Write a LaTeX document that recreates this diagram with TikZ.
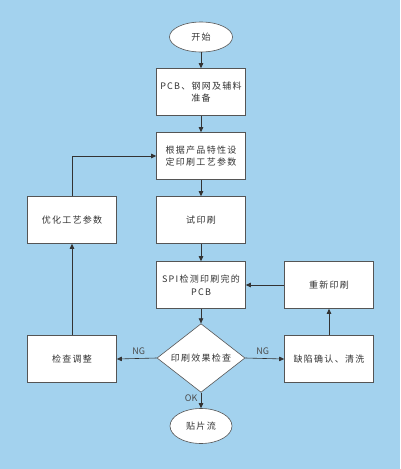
\documentclass[tikz,border=0pt]{standalone}
\usepackage{fontspec}
\setmainfont{Noto Sans CJK SC}
\usetikzlibrary{shapes.geometric,arrows.meta}
\definecolor{bg}{HTML}{A3D2EE}
\definecolor{edge}{HTML}{555555}
\tikzset{
  x=1pt,y=-1pt,
  every node/.style={font=\fontsize{9}{12.5}\selectfont\addfontfeature{LetterSpace=14}, text=black!80},
  box/.style={draw=edge, fill=white, minimum width=89pt, minimum height=47pt, align=center, inner sep=2pt, text width=84pt, line width=0.6pt},
  term/.style={draw=edge, fill=white, ellipse, inner sep=0pt, line width=0.6pt},
  dec/.style={draw=edge, fill=white, diamond, inner sep=0pt, minimum width=88pt, minimum height=65pt, line width=0.6pt},
  arr/.style={draw=black!80, line width=0.6pt, -{Triangle[length=5pt,width=4.5pt]}},
  lbl/.style={font=\fontsize{9}{11}\selectfont, text=black!70}
}
\begin{document}
\begin{tikzpicture}
\fill[bg] (0,0) rectangle (400,469);
\useasboundingbox (0,0) rectangle (400,469);
\node[term, minimum width=63pt, minimum height=30pt] (start) at (201,37) {开始};
\node[box] (prep) at (201,92) {PCB、钢网及辅料\\准备};
\node[box] (set) at (201,156) {根据产品特性设\\定印刷工艺参数};
\node[box] (trial) at (201,220) {试印刷};
\node[box] (spi) at (201,285) {SPI检测印刷完的\\PCB};
\node[dec] (chk) at (201,358) {印刷效果检查};
\node[term, minimum width=62pt, minimum height=35pt] (smt) at (201,426) {贴片流};
\node[box] (opt) at (72,220) {优化工艺参数};
\node[box] (adj) at (72,359) {检查调整};
\node[box] (reprint) at (329,285) {重新印刷};
\node[box] (defect) at (329,359) {缺陷确认、清洗};
\coordinate (corner) at (72,156);
\draw[arr] (start) -- (prep);
\draw[arr] (prep) -- (set);
\draw[arr] (set) -- (trial);
\draw[arr] (trial) -- (spi);
\draw[arr] (spi) -- (chk);
\draw[arr] (chk) -- node[lbl, left, pos=0.35] {OK} (smt);
\draw[arr] (chk.west) -- node[lbl, above, pos=0.45] {NG} (adj.east);
\draw[arr] (chk.east) -- node[lbl, above, pos=0.45] {NG} (defect.west);
\draw[arr] (adj) -- (opt);
\draw[arr] (opt.north) -- (corner) -- (set.west);
\draw[arr] (defect) -- (reprint);
\draw[arr] (reprint) -- (spi);
\end{tikzpicture}
\end{document}
